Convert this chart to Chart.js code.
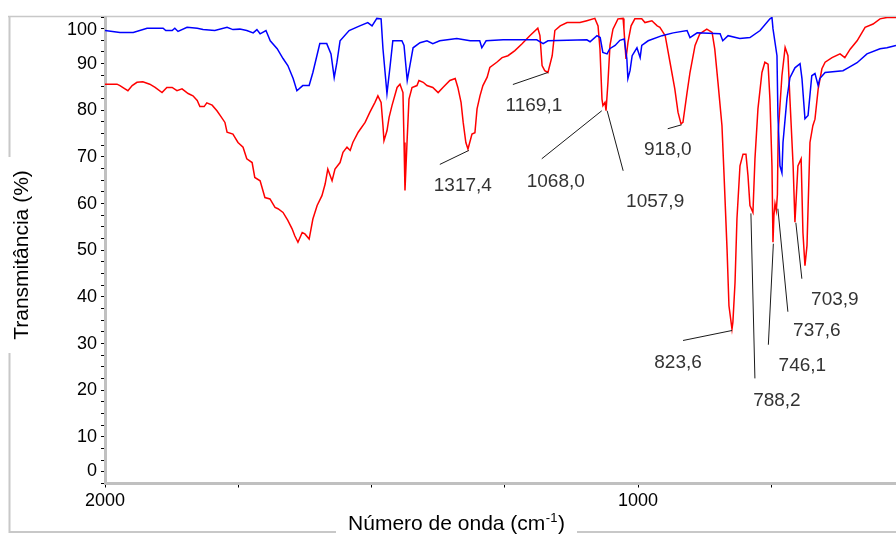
<!DOCTYPE html>
<html><head><meta charset="utf-8">
<script src="https://cdn.jsdelivr.net/npm/chart.js@4.4.1/dist/chart.umd.min.js"></script>
<style>html,body{margin:0;padding:0;background:#fff;overflow:hidden}#wrap{width:896px;height:534px}</style>
</head><body><div id="wrap"><canvas id="c" width="896" height="534"></canvas></div>
<script>
// ---- data (wavenumber cm-1, transmittance %) ----
const blueWn = [2000,1972,1947,1921,1891,1886,1874,1869,1863,1846,1827,1816,1794,1771,1760,1747,1734,1722,1715,1709,1698,1690,1677,1666,1657,1647,1640,1629,1617,1610,1597,1584,1576,1570,1565,1559,1542,1522,1507,1499,1490,1482,1478.5,1471,1465,1460,1443,1439,1433,1428,1422,1409,1396,1385,1372,1340,1315,1297,1293,1285,1253,1190,1178,1169,1096,1090,1077,1071,1066,1058,1053,1043,1034,1026,1021,1019,1015,1011,1002,996,993,981,955,934,908,902.5,889,846,841,831,809,790,771,752.5,748.7,746.8,739.3,737.5,733.7,730,728,720.6,715,705.6,696,692.4,686.8,681,674,668,662,659,649,615.5,606,589,570.5,546,533,516];
const blueT  = [97.1,96.7,96.7,97.6,97.6,97.1,97.1,97.6,96.9,97.8,97.6,97.3,97.1,97.8,97.3,97.4,97.1,96.6,97.3,96.4,97.1,94.9,93.2,91.1,89.6,86.8,84.2,85.3,85.3,88.1,94.3,94.3,92.1,87.0,90.2,94.9,97.1,98.1,98.8,98.1,99.7,99.6,93.2,83.6,89.6,94.9,94.9,93.9,86.4,89.6,93.4,94.5,94.9,94.3,94.9,95.4,94.9,94.9,93.4,94.9,95.1,95.1,94.3,94.9,95.1,94.7,96.0,95.6,92.4,92.1,93.2,93.9,95.0,95.3,91.1,86.8,88.5,91.7,93.4,91.3,93.9,94.9,96.0,96.6,97.1,95.6,96.6,96.4,94.9,96.0,95.4,95.6,97.1,99.6,99.9,97.5,91.7,78.9,68.1,66.6,73.1,82.5,87.0,89.1,90.0,86.8,78.2,78.9,87.4,87.9,85.3,86.8,88.1,88.5,89.1,90.2,92.1,93.2,93.4,93.9];

const redWn = [2000,1977.5,1972,1962.5,1957,1949,1940,1929,1916,1906,1893,1884,1874,1865,1855.5,1844,1835,1827,1822,1814,1809,1799,1790,1784,1775,1771,1760,1750.5,1741,1734,1724,1719,1709,1700,1690.5,1681,1675.5,1666,1657,1649,1644,1638,1630,1625,1617,1610,1602,1593,1587,1582,1574,1568.5,1559,1553.5,1546,1540,1535,1525,1512,1503,1493.5,1488,1482,1478.5,1476.6,1471,1467,1461.6,1452,1446.6,1441,1439,1437.2,1433.4,1429.7,1424,1414.7,1411,1403,1396,1385,1375,1366,1353,1343,1338,1332,1328,1323,1319,1311.5,1306,1302,1296.5,1291,1283,1278,1265,1255,1244,1231,1218,1203,1188,1184,1180,1175,1169,1161,1156,1146,1133,1109,1096,1081,1075,1071.4,1067.6,1065.8,1062,1060,1056.4,1052.6,1047,1037.6,1028,1026.4,1022.6,1018.8,1013,1006,993,987,974,964,959,949,940,931,925,919.4,915.7,908,902.5,893,884,871,861,856,850,842.5,838.8,833,829.4,823.7,822,818,814.4,808.7,803,797.5,793.7,790,784.4,780.6,775,767.5,762,756,752.5,748.7,746.8,745,743,740.5,738.5,737,730,724,718.7,715,709,705.6,700,694,690.6,686.8,683,677.4,672,668,662,655,649,636,621,612,602,589,574,559,546,533,516];
const redT  = [85.6,85.6,85.3,84.6,84.2,85.3,86.0,86.1,85.6,84.9,83.8,84.9,84.9,84.2,84.6,83.6,83.1,82.1,80.8,80.8,81.6,81.1,79.9,78.9,77.4,75.3,74.9,73.1,72.1,69.6,68.8,65.6,64.9,61.3,61.0,59.2,58.9,58.1,56.4,54.6,53.1,51.7,53.8,53.5,52.4,56.7,59.6,61.7,64.2,67.4,64.9,67.4,68.8,71.0,72.1,71.4,73.1,75.3,77.4,79.6,81.7,83.1,81.7,76.7,73.5,75.6,78.5,81.0,84.9,85.6,83.8,73.1,62.8,73.1,82.4,84.9,85.3,86.4,86.0,85.3,84.9,83.8,84.9,86.4,86.8,84.9,81.7,77.4,73.1,71.7,74.9,75.2,80.3,83.1,85.3,87.1,89.2,90.3,91.3,91.7,92.8,94.2,96.0,97.6,96.0,89.6,88.5,88.1,91.7,97.1,98.1,98.8,98.8,99.2,99.7,98.1,93.2,82.4,81.0,81.7,79.9,86.0,93.9,97.4,99.6,99.7,97.4,91.0,94.6,98.1,99.6,99.6,98.8,99.2,98.1,97.8,96.0,90.3,84.6,79.6,77.1,77.4,83.8,88.1,93.9,96.4,97.4,96.7,93.1,86.0,76.7,66.7,50.3,38.1,33.1,34.6,43.1,56.7,68.1,70.6,70.6,66.0,59.6,58.1,69.6,80.3,88.1,90.3,89.9,82.4,68.1,51.7,57.5,60.0,58.5,62.0,75.3,87.4,93.5,91.7,82.4,68.1,56.0,68.1,69.6,53.8,46.7,51.0,73.1,76.7,78.1,84.6,88.9,90.3,91.3,92.1,91.3,93.1,94.9,97.8,98.5,99.6,99.9,99.9];

// ---- axes / ticks ----
const xTickValues = [2000,1750,1500,1250,1000,750];
const xLabelValues = [2000,1000];
const yLabelValues = [0,10,20,30,40,50,60,70,80,90,100];
const yMinorStep = 2.5;

// ---- peak annotations ----
const peakLabels = ['1317,4','1169,1','1068,0','1057,9','918,0','823,6','788,2','746,1','737,6','703,9'];
const peakWn     = [1317.4,1169.1,1068.0,1057.9,918.0,823.6,788.2,746.1,737.6,703.9];
const peakT      = [71.4,88.1,79.9,79.9,76.9,32.8,57.9,51.4,58.9,55.9];

const FONT = '"Liberation Sans", Arial, Helvetica, sans-serif';
Chart.defaults.font.family = FONT;

const yTickValues = [];
for (let v = 0; v <= 100 + 1e-9; v += yMinorStep) yTickValues.push(Math.round(v * 10) / 10);

const decor = {
  id: 'decor',
  beforeDraw(chart) {
    const ctx = chart.ctx;
    ctx.save();
    ctx.fillStyle = '#fff';
    ctx.fillRect(0, 0, chart.width, chart.height);
    ctx.strokeStyle = '#c8c8c8';
    ctx.lineWidth = 1.5;
    ctx.beginPath();
    ctx.moveTo(8, 16.5); ctx.lineTo(chart.width, 16.5);
    ctx.stroke();
    ctx.lineWidth = 2;
    ctx.beginPath();
    ctx.moveTo(9.5, 16); ctx.lineTo(9.5, 157);
    ctx.moveTo(9.5, 353); ctx.lineTo(9.5, 533);
    ctx.moveTo(8.5, 532); ctx.lineTo(336, 532);
    ctx.moveTo(577, 532); ctx.lineTo(chart.width, 532);
    ctx.stroke();
    ctx.restore();
  },
  afterDatasetsDraw(chart, args, opts) {
    const ctx = chart.ctx, xs = chart.scales.x, ys = chart.scales.y;
    ctx.save();
    peakLabels.forEach((txt, i) => {
      const px = xs.getPixelForValue(peakWn[i]);
      const py = ys.getPixelForValue(peakT[i]);
      const o = opts.offsets[i];
      ctx.strokeStyle = '#1a1a1a';
      ctx.lineWidth = 1;
      ctx.beginPath();
      ctx.moveTo(px + o[2], py + o[3]);
      ctx.lineTo(px, py);
      ctx.stroke();
      ctx.fillStyle = '#333';
      ctx.font = '19px ' + FONT;
      ctx.textAlign = 'center';
      ctx.textBaseline = 'middle';
      ctx.fillText(txt, px + o[0], py + o[1]);
    });
    ctx.restore();
  },
  afterDraw(chart) {
    const ctx = chart.ctx;
    ctx.save();
    ctx.fillStyle = '#000';
    // y title
    ctx.font = '21px ' + FONT;
    ctx.translate(22, 255);
    ctx.rotate(-Math.PI / 2);
    ctx.textAlign = 'center';
    ctx.textBaseline = 'middle';
    ctx.fillText('Transmitância (%)', 0, 0);
    ctx.restore();
    // x title with superscript
    ctx.save();
    ctx.fillStyle = '#000';
    ctx.textAlign = 'left';
    ctx.textBaseline = 'alphabetic';
    const a = 'Número de onda (cm', s = '-1', b = ')';
    ctx.font = '21px ' + FONT;
    const wa = ctx.measureText(a).width, wb = ctx.measureText(b).width;
    ctx.font = '13px ' + FONT;
    const ws = ctx.measureText(s).width;
    const x0 = 456 - (wa + ws + wb) / 2, base = 530;
    ctx.font = '21px ' + FONT;
    ctx.fillText(a, x0, base);
    ctx.font = '13px ' + FONT;
    ctx.fillText(s, x0 + wa + 0.5, base - 8);
    ctx.font = '21px ' + FONT;
    ctx.fillText(b, x0 + wa + ws + 1, base);
    ctx.restore();
  }
};

new Chart(document.getElementById('c'), {
  type: 'line',
  data: {
    datasets: [
      { label: 'blue', data: blueWn.map((x, i) => ({ x, y: blueT[i] })), borderColor: '#0000ff', borderWidth: 1.5, pointRadius: 0, tension: 0, fill: false },
      { label: 'red',  data: redWn.map((x, i) => ({ x, y: redT[i] })),  borderColor: '#ff0000', borderWidth: 1.5, pointRadius: 0, tension: 0, fill: false }
    ]
  },
  options: {
    responsive: false,
    animation: false,
    devicePixelRatio: 1,
    layout: { padding: { top: 17, left: 0, right: 0, bottom: 0 } },
    plugins: {
      legend: { display: false },
      tooltip: { enabled: false },
      decor: {
        offsets: [
          [-6, 35, -29, 14],
          [-14, 33, -35, 12],
          [-46, 71, -60, 48],
          [48, 91, 16, 60],
          [-14, 25, -14, 4],
          [-54, 32, -49, 10],
          [26, 187, 4, 165],
          [29, 122, -5, 101],
          [39, 122, 10, 103],
          [39, 77, 6, 56]
        ]
      }
    },
    scales: {
      x: {
        type: 'linear', reverse: true, min: 516, max: 2000,
        afterBuildTicks: s => { s.ticks = xTickValues.map(v => ({ value: v })); },
        afterFit: s => { s.height = 50.5; s.paddingLeft = 0; s.paddingRight = 0; },
        ticks: { autoSkip: false, maxRotation: 0, minRotation: 0, color: '#000', padding: 3, font: { size: 18 },
          callback: v => xLabelValues.includes(v) ? String(v) : '' },
        grid: { drawOnChartArea: false, drawTicks: true, tickLength: 4, tickColor: '#000', tickWidth: 1 },
        border: { display: true, color: '#c0c0c0', width: 3 }
      },
      y: {
        type: 'linear', min: 0, max: 100,
        afterBuildTicks: s => { s.ticks = yTickValues.map(v => ({ value: v })); },
        afterFit: s => { s.width = 105; s.paddingTop = 0; s.paddingBottom = 0; },
        ticks: { autoSkip: false, color: '#000', padding: 4, font: { size: 18, lineHeight: 1.4 },
          callback: v => {
            if (v === 100) return ['', '100'];
            if (v === 0) return ['0', ''];
            return yLabelValues.includes(v) ? String(v) : '';
          } },
        grid: { drawOnChartArea: false, drawTicks: true, tickLength: 4, tickColor: '#000', tickWidth: 1 },
        border: { display: true, color: '#c0c0c0', width: 3 }
      }
    }
  },
  plugins: [decor]
});
</script>
</body></html>
